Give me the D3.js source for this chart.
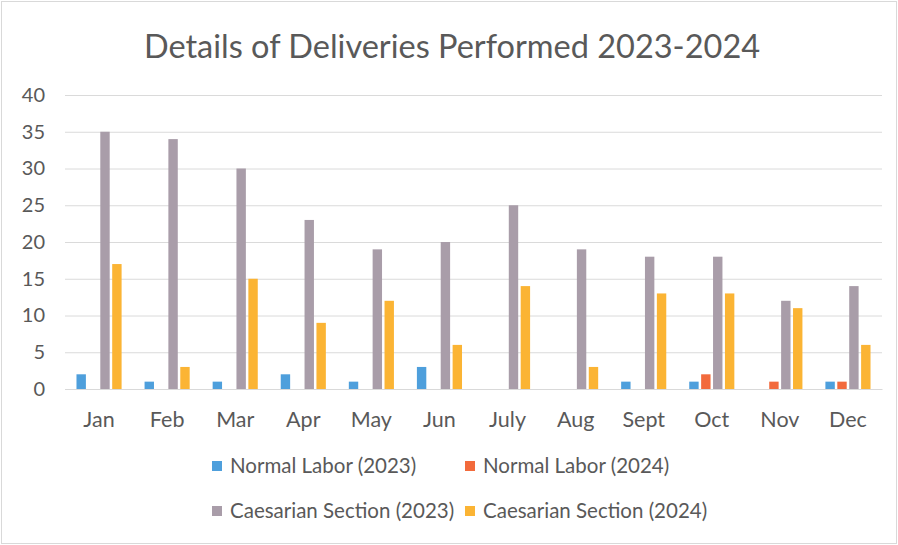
<!DOCTYPE html>
<html><head><meta charset="utf-8">
<script src="https://cdn.jsdelivr.net/npm/d3@7"></script>
<style>html,body{margin:0;padding:0;background:#fff}svg{display:block}</style>
</head><body>
<script>
const months = ["Jan","Feb","Mar","Apr","May","Jun","July","Aug","Sept","Oct","Nov","Dec"];
const normal2023 = [2,1,1,2,1,3,0,0,1,1,0,1];
const normal2024 = [0,0,0,0,0,0,0,0,0,2,1,1];
const caesarian2023 = [35,34,30,23,19,20,25,19,18,18,12,14];
const caesarian2024 = [17,3,15,9,12,6,14,3,13,13,11,6];
const seriesNames = ["Normal Labor (2023)","Normal Labor (2024)","Caesarian Section (2023)","Caesarian Section (2024)"];
const seriesValues = [normal2023, normal2024, caesarian2023, caesarian2024];
const colors = ["#4E9FDC","#F26A3C","#A99DA9","#FBB434"];
const yTicks = [0,5,10,15,20,25,30,35,40];
const title = "Details of Deliveries Performed 2023-2024";

const W = 898, H = 545;
const font = "Lato, 'Open Sans', sans-serif";
const textColor = "#595959";
const plot = {left: 65, right: 882, top: 95, bottom: 389};

const svg = d3.select("body").append("svg").attr("width", W).attr("height", H);
svg.append("rect").attr("x",1.5).attr("y",1.5).attr("width",W-3).attr("height",H-3)
  .attr("fill","#fff").attr("stroke","#D9D9D9").attr("stroke-width",1);

svg.append("text").attr("x", 452).attr("y", 58).attr("text-anchor","middle")
  .attr("font-family", font).attr("font-size", 32.5).attr("fill", textColor).text(title);

const y = d3.scaleLinear().domain([0,40]).range([plot.bottom, plot.top]);
const x0 = d3.scaleBand().domain(months).range([plot.left, plot.right]).paddingInner(0).paddingOuter(0);
const x1 = d3.scaleBand().domain(d3.range(4)).range([0, x0.bandwidth()]).paddingInner(0.21).paddingOuter(0.965);

// gridlines
const yAxis = d3.axisLeft(y).tickValues(yTicks).tickSize(-(plot.right-plot.left)).tickPadding(20);
const gy = svg.append("g").attr("transform",`translate(${plot.left},0)`).call(yAxis);
gy.select(".domain").remove();
gy.selectAll(".tick line").attr("stroke","#DADADA").attr("stroke-width",1);
gy.selectAll(".tick text").attr("font-family",font).attr("font-size",20).attr("fill",textColor);

// bars
const groups = svg.append("g").selectAll("g").data(months).join("g")
  .attr("transform", d => `translate(${x0(d)},0)`);
groups.selectAll("rect").data((m,i) => seriesValues.map((vals,s) => ({s, v: vals[i]})))
  .join("rect")
  .attr("x", d => x1(d.s)).attr("width", x1.bandwidth())
  .attr("y", d => y(d.v)).attr("height", d => y(0) - y(d.v))
  .attr("fill", d => colors[d.s]);

// x axis
const xAxis = d3.axisBottom(x0).tickSize(0);
const gx = svg.append("g").attr("transform",`translate(0,${plot.bottom})`).call(xAxis);
gx.select(".domain").attr("stroke","#D9D9D9");
gx.selectAll(".tick text").attr("y",38).attr("dy",null)
  .attr("font-family",font).attr("font-size",21.5).attr("fill",textColor);

// legend
const legendPos = [[212,466],[465,466],[212,511],[465,511]];
const lg = svg.append("g").selectAll("g").data(seriesNames).join("g")
  .attr("transform",(d,i)=>`translate(${legendPos[i][0]},${legendPos[i][1]})`);
lg.append("rect").attr("x",0).attr("y",-5).attr("width",10).attr("height",10).attr("fill",(d,i)=>colors[i]);
lg.append("text").attr("x",18).attr("y",0).attr("dy","0.35em")
  .attr("font-family",font).attr("font-size",20.5).attr("fill",textColor).text(d=>d);
</script>
</body></html>
